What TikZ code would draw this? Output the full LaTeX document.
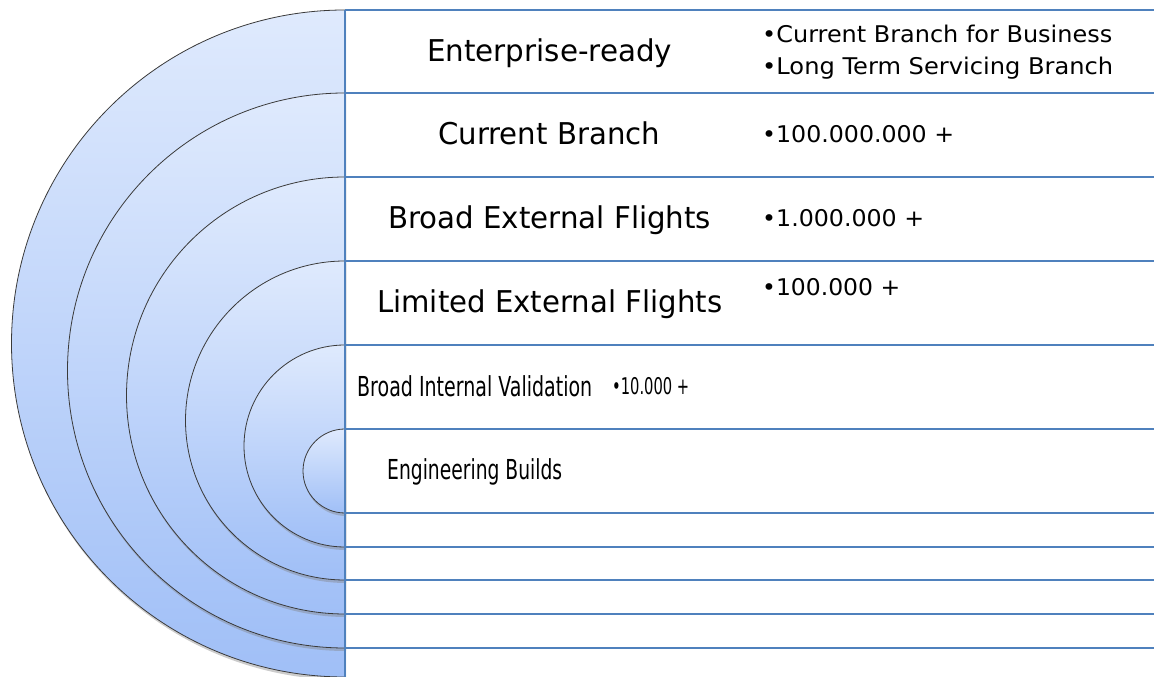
\documentclass[tikz,border=0pt]{standalone}
\usepackage{fontspec}
\setmainfont{DejaVu Sans}
\usetikzlibrary{shadows}
\definecolor{gridblue}{HTML}{4F81BD}
\definecolor{fillTop}{HTML}{DFEAFD}
\definecolor{fillBot}{HTML}{A0BFF7}
\definecolor{rimgray}{HTML}{3A3A3A}
\newcommand{\fitw}[3]{\resizebox{#1pt}{\height}{\fontsize{#2}{#2}\selectfont #3}}
\tikzset{
  band/.style={top color=fillTop, bottom color=fillBot, draw=rimgray, line width=0.8pt,
    drop shadow={opacity=0.4, shadow xshift=1pt, shadow yshift=-3pt}},
  gridline/.style={draw=gridblue, line width=1.6pt},
  lbl/.style={anchor=base west, inner sep=0pt, text=black},
}
\begin{document}
\begin{tikzpicture}[x=1pt,y=1pt]
\useasboundingbox (0,0) rectangle (1154,677);
% nested half discs (outer first)
\path[band] (345,667) arc[start angle=90,end angle=270,radius=333.5] -- cycle;
\path[band] (345,584) arc[start angle=90,end angle=270,radius=277.5] -- cycle;
\path[band] (345,500) arc[start angle=90,end angle=270,radius=218.5] -- cycle;
\path[band] (345,416) arc[start angle=90,end angle=270,radius=159.5] -- cycle;
\path[band] (345,332) arc[start angle=90,end angle=270,radius=101] -- cycle;
\path[band] (345,248) arc[start angle=90,end angle=270,radius=42] -- cycle;
% grid lines
\foreach \yy in {10,93,177,261,345,429,513,547,580,614,648}
  \draw[gridline] (345,677-\yy) -- (1154,677-\yy);
\draw[gridline] (345,667) -- (345,0);
% titles
\node[lbl] (t1) at (427,677-62) {\fitw{245}{30}{Enterprise-ready}};
\node[lbl] (t2) at (438,677-145) {\fitw{222}{30}{Current Branch}};
\node[lbl] (t3) at (388,677-229) {\fitw{323}{30}{Broad External Flights}};
\node[lbl] (t4) at (377,677-313) {\fitw{345}{30}{Limited External Flights}};
\node[lbl] (t5) at (357,677-397) {\fitw{235}{27.5}{Broad Internal Validation}};
\node[lbl] (t6) at (387,677-480) {\fitw{175}{27.5}{Engineering Builds}};
% details
\node[lbl] (d1a) at (762,677-43) {\fitw{350}{23}{•Current Branch for Business}};
\node[lbl] (d1b) at (762,677-75) {\fitw{351}{23}{•Long Term Servicing Branch}};
\node[lbl] (d2) at (762,677-143) {\fitw{192}{23}{•100.000.000 +}};
\node[lbl] (d3) at (762,677-227) {\fitw{162}{23}{•1.000.000 +}};
\node[lbl] (d4) at (762,677-296) {\fitw{138}{23}{•100.000 +}};
\node[lbl] (d5) at (612,677-395) {\fitw{77}{23}{•10.000 +}};
\end{tikzpicture}
\end{document}
